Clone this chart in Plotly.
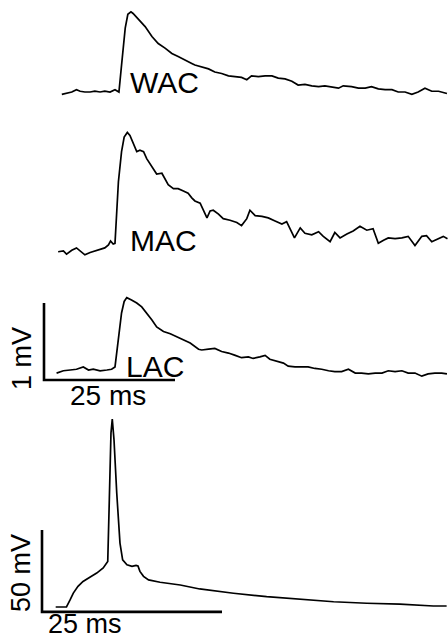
import plotly.graph_objects as go

# ---------------- data (ms, mV) ----------------
wac_t = [3.4, 4.3, 5.3, 6.2, 6.9, 7.8, 8.8, 9.7, 10.7, 11.6, 12.6, 13.55, 14.3, 14.8, 15.5, 16.0, 16.6, 17.0, 18.0,
         19.3, 20.6, 21.8, 23.1, 24.4, 25.6, 26.9, 28.2, 28.8, 30.1, 31.4, 32.6, 33.9, 35.2, 36.5, 37.7, 38.7, 39.6,
         40.9, 42.2, 43.5, 44.7, 46.0, 47.3, 48.5, 49.8, 51.1, 52.4, 53.6, 54.9, 56.2, 57.1, 58.7, 60.0, 61.3, 62.5,
         63.8, 65.1, 66.4, 67.6, 68.9, 70.2, 71.4, 72.7, 74.0, 75.3, 76.9]
wac_v = [-0.03, -0.02, 0.00, 0.03, 0.01, 0.00, 0.00, 0.01, 0.00, 0.01, 0.00, 0.03, 0.00, 0.35, 0.83, 1.01, 1.04, 1.02,
         0.94, 0.85, 0.72, 0.63, 0.57, 0.50, 0.46, 0.42, 0.37, 0.35, 0.32, 0.30, 0.26, 0.24, 0.21, 0.20, 0.19, 0.16,
         0.21, 0.20, 0.21, 0.21, 0.18, 0.17, 0.14, 0.09, 0.10, 0.08, 0.07, 0.08, 0.06, 0.05, 0.08, 0.07, 0.05, 0.05,
         0.07, 0.04, 0.03, 0.03, 0.00, 0.00, -0.03, 0.00, 0.05, 0.01, 0.01, -0.02]

mac_t = [2.7, 3.7, 4.3, 5.3, 6.2, 7.2, 7.8, 8.8, 9.7, 10.7, 11.6, 12.3, 12.7, 13.2, 13.55, 14.2, 14.8, 15.3, 15.9,
         16.4, 17.0, 17.7, 18.3, 19.0, 19.6, 20.2, 20.9, 21.5, 22.5, 23.1, 23.7, 24.7, 25.6, 26.6, 27.5, 28.2, 28.8,
         29.8, 30.4, 31.1, 31.7, 32.3, 33.3, 34.2, 35.5, 36.8, 37.7, 38.7, 39.3, 40.3, 41.6, 42.8, 44.1, 45.4, 46.3,
         47.0, 47.8, 48.9, 49.8, 51.1, 52.4, 53.3, 54.6, 55.5, 56.5, 57.8, 59.0, 60.3, 61.6, 62.8, 63.8, 64.8, 65.7,
         67.0, 68.3, 69.5, 70.8, 72.1, 73.0, 74.0, 75.3, 76.2, 77.0]
mac_v = [-0.01, 0.00, -0.04, 0.01, 0.04, -0.02, -0.05, -0.02, 0.00, 0.03, 0.04, 0.08, 0.13, 0.09, 0.10, 0.90, 1.29,
         1.48, 1.54, 1.50, 1.40, 1.29, 1.31, 1.29, 1.20, 1.14, 1.07, 1.00, 1.01, 0.94, 0.86, 0.81, 0.81, 0.78, 0.75,
         0.69, 0.65, 0.62, 0.53, 0.43, 0.52, 0.53, 0.48, 0.42, 0.40, 0.37, 0.33, 0.42, 0.53, 0.46, 0.45, 0.43, 0.39,
         0.35, 0.38, 0.29, 0.17, 0.30, 0.23, 0.21, 0.25, 0.19, 0.12, 0.24, 0.17, 0.22, 0.26, 0.32, 0.27, 0.29, 0.10,
         0.14, 0.17, 0.16, 0.17, 0.19, 0.07, 0.19, 0.20, 0.12, 0.16, 0.19, 0.16]

lac_t = [2.4, 3.7, 5.0, 6.2, 7.5, 8.5, 9.4, 10.7, 12.0, 12.9, 13.55, 14.2, 14.8, 15.3, 15.8, 16.7, 17.7, 18.65, 19.6,
         20.6, 21.5, 22.8, 24.1, 25.3, 26.6, 27.9, 29.5, 30.1, 31.4, 32.6, 33.9, 35.2, 36.5, 37.7, 39.0, 39.9, 41.2,
         42.2, 43.1, 44.4, 45.7, 46.6, 47.9, 49.2, 50.4, 51.7, 53.0, 54.3, 55.5, 56.8, 58.1, 59.4, 60.6, 61.9, 63.2,
         64.5, 65.7, 67.0, 68.3, 69.5, 70.8, 72.1, 73.3, 74.6, 75.9, 76.9]
lac_v = [-0.04, -0.01, 0.00, 0.01, 0.04, 0.00, 0.01, -0.01, 0.00, 0.01, 0.04, 0.39, 0.74, 0.89, 0.94, 0.91, 0.87,
         0.82, 0.74, 0.65, 0.56, 0.50, 0.47, 0.43, 0.39, 0.35, 0.27, 0.26, 0.27, 0.28, 0.24, 0.22, 0.19, 0.16, 0.17,
         0.15, 0.17, 0.19, 0.14, 0.11, 0.09, 0.05, 0.04, 0.04, 0.04, 0.02, 0.01, -0.01, -0.02, -0.02, 0.01, -0.04,
         -0.04, -0.05, -0.04, -0.04, -0.01, -0.02, -0.01, -0.04, -0.04, -0.08, -0.05, -0.04, -0.04, -0.05]

ap_t = [1.9, 3.4, 3.9, 4.35, 5.0, 5.7, 6.7, 7.6, 8.5, 9.13, 9.35, 9.58, 9.76, 10.0, 10.38, 10.83, 11.2, 11.8, 12.5,
        13.06, 13.33, 13.6, 14.1, 14.8, 16.4, 19.2, 21.9, 24.7, 26.6, 31.2, 35.8, 40.5, 45.1, 49.7, 54.35, 56.2]
ap_v = [0.0, 0.0, 4.3, 8.5, 12.6, 15.6, 18.3, 20.7, 23.8, 27.8, 65.4, 106.1, 114.6, 102.0, 69.5, 39.0, 28.8, 25.8,
        24.8, 25.4, 25.0, 21.7, 18.7, 16.5, 15.1, 13.4, 11.0, 9.3, 8.4, 6.3, 4.7, 3.2, 2.3, 1.8, 0.6, 0.6]

labels = ["WAC", "MAC", "LAC"]

# scale bars: (corner time, corner voltage, length ms, height mV)
bar_small = dict(t0=0.0, v0=-0.13, ms=25, mv=1)
bar_big = dict(t0=0.0, v0=-3.0, ms=25, mv=50)

# ---------------- layout geometry ----------------
W, H = 448, 638
TOP_PX_PER_MS, TOP_PX_PER_MV, TOP_X0 = 5.24, 77.0, 44
AP_PX_PER_MS, AP_PX_PER_MV, AP_X0 = 7.2, 1.64, 42

# rows: (top px, bottom px, baseline px, px per unit)
rows = [(0, 115, 92, TOP_PX_PER_MV), (115, 265, 251, TOP_PX_PER_MV),
        (265, 410, 370, TOP_PX_PER_MV), (410, 638, 607, AP_PX_PER_MV)]


def yrange(top, bottom, base, ppu):
    return [(base - bottom) / ppu, (base - top) / ppu]


def ydomain(top, bottom):
    return [1 - bottom / H, 1 - top / H]


FONT = "Liberation Sans, Arial, Helvetica, sans-serif"
LINE = dict(color="black", width=1.7)
BAR = dict(color="black", width=2.6)

fig = go.Figure()
for (t, v), ya in zip([(wac_t, wac_v), (mac_t, mac_v), (lac_t, lac_v)], ["y", "y2", "y3"]):
    fig.add_trace(go.Scatter(x=t, y=v, mode="lines", line=LINE, xaxis="x", yaxis=ya))
fig.add_trace(go.Scatter(x=ap_t, y=ap_v, mode="lines", line=LINE, xaxis="x2", yaxis="y4"))

for b, xa, ya in [(bar_small, "x", "y3"), (bar_big, "x2", "y4")]:
    fig.add_trace(go.Scatter(x=[b["t0"], b["t0"], b["t0"] + b["ms"]],
                             y=[b["v0"] + b["mv"], b["v0"], b["v0"]],
                             mode="lines", line=BAR, xaxis=xa, yaxis=ya))

axis_off = dict(visible=False, showgrid=False, zeroline=False, fixedrange=True)
layout = dict(
    width=W, height=H, autosize=False, margin=dict(l=0, r=0, t=0, b=0, pad=0),
    paper_bgcolor="white", plot_bgcolor="white", showlegend=False, hovermode=False,
    xaxis=dict(domain=[0, 1], range=[-TOP_X0 / TOP_PX_PER_MS, (W - TOP_X0) / TOP_PX_PER_MS], anchor="y4", **axis_off),
    xaxis2=dict(domain=[0, 1], range=[-AP_X0 / AP_PX_PER_MS, (W - AP_X0) / AP_PX_PER_MS], anchor="y4", **axis_off),
)
for i, (top, bottom, base, ppu) in enumerate(rows):
    key = "yaxis" if i == 0 else f"yaxis{i + 1}"
    layout[key] = dict(domain=ydomain(top, bottom), range=yrange(top, bottom, base, ppu),
                       anchor="x" if i < 3 else "x2", **axis_off)
fig.update_layout(**layout)


def font(size):
    return dict(size=size, family=FONT, color="black")


ann = []
for lab, ya, tv in zip(labels, ["y", "y2", "y3"], [(23.0, 0.12), (22.8, 0.13), (21.1, 0.05)]):
    ann.append(dict(text=lab, x=tv[0], y=tv[1], xref="x", yref=ya, showarrow=False,
                    xanchor="center", yanchor="middle", font=font(30)))
ann.append(dict(text="25 ms", x=bar_small["t0"] + bar_small["ms"] / 2 - 0.3, y=-0.33, xref="x", yref="y3",
                showarrow=False, xanchor="center", yanchor="middle", font=font(28)))
ann.append(dict(text="1 mV", x=-4.1, y=0.15, xref="x", yref="y3", textangle=-90,
                showarrow=False, xanchor="center", yanchor="middle", font=font(27)))
ann.append(dict(text="50 mV", x=-3.0, y=21.0, xref="x2", yref="y4", textangle=-90,
                showarrow=False, xanchor="center", yanchor="middle", font=font(27)))
ann.append(dict(text="25 ms", x=6.0, y=-10.4, xref="x2", yref="y4",
                showarrow=False, xanchor="center", yanchor="middle", font=font(27)))
fig.update_layout(annotations=ann)

fig.write_html("out.html", config={"displayModeBar": False, "staticPlot": True})
